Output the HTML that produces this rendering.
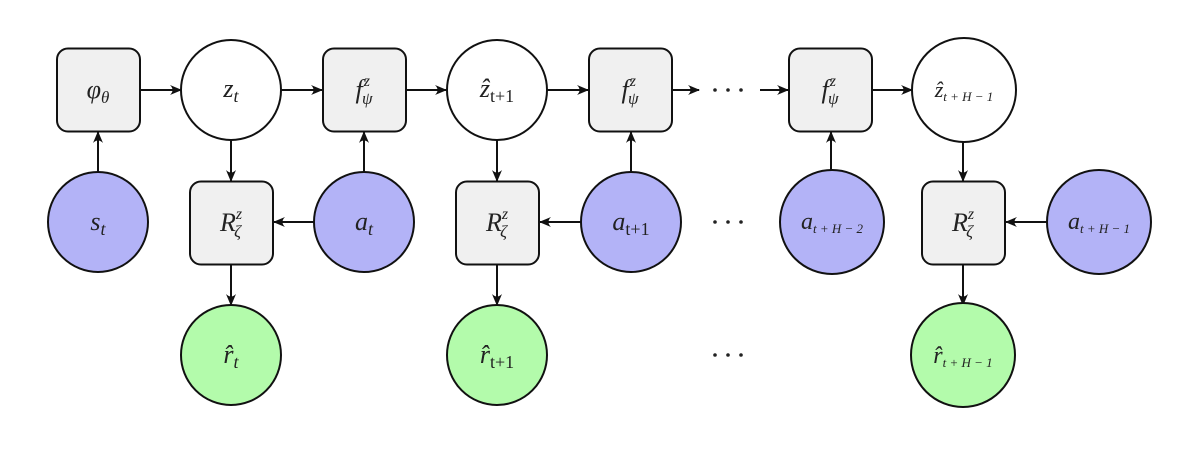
<!DOCTYPE html>
<html><head><meta charset="utf-8"><style>
html,body{margin:0;padding:0;background:#fff;}
svg{display:block;}
text{font-family:"Liberation Serif",serif;font-style:italic;fill:#222;}
</style></head><body>
<svg width="1200" height="450" viewBox="0 0 1200 450" xmlns="http://www.w3.org/2000/svg">
<defs>
<marker id="ah" markerWidth="12" markerHeight="10" refX="11" refY="5" orient="auto" markerUnits="userSpaceOnUse">
<path d="M0,0 Q5,5 0,10 L12,5 Z" fill="#111"/>
</marker>
</defs>
<g stroke="#111" stroke-width="2" fill="none" marker-end="url(#ah)">
<line x1="140" y1="90" x2="181" y2="90"/>
<line x1="281" y1="90" x2="322" y2="90"/>
<line x1="406" y1="90" x2="446" y2="90"/>
<line x1="547" y1="90" x2="588" y2="90"/>
<line x1="672" y1="90" x2="699" y2="90"/>
<line x1="760" y1="90" x2="788" y2="90"/>
<line x1="872" y1="90" x2="912" y2="90"/>
<line x1="98" y1="172" x2="98" y2="132"/>
<line x1="364" y1="172" x2="364" y2="132"/>
<line x1="631" y1="172" x2="631" y2="132"/>
<line x1="831" y1="172" x2="831" y2="132"/>
<line x1="231" y1="140" x2="231" y2="181"/>
<line x1="497" y1="140" x2="497" y2="181"/>
<line x1="963" y1="140" x2="963" y2="181"/>
<line x1="314" y1="222" x2="274" y2="222"/>
<line x1="581" y1="222" x2="540" y2="222"/>
<line x1="1049" y1="222" x2="1006" y2="222"/>
<line x1="231" y1="264" x2="231" y2="305"/>
<line x1="497" y1="264" x2="497" y2="305"/>
<line x1="963" y1="264" x2="963" y2="305"/>
</g>
<g stroke="#111" stroke-width="2">
<rect x="57" y="48.5" width="83" height="83" rx="11" fill="#f0f0f0"/>
<rect x="323" y="48.5" width="83" height="83" rx="11" fill="#f0f0f0"/>
<rect x="589" y="48.5" width="83" height="83" rx="11" fill="#f0f0f0"/>
<rect x="789" y="48.5" width="83" height="83" rx="11" fill="#f0f0f0"/>
<rect x="190" y="181.5" width="83" height="83" rx="11" fill="#f0f0f0"/>
<rect x="456" y="181.5" width="83" height="83" rx="11" fill="#f0f0f0"/>
<rect x="922" y="181.5" width="83" height="83" rx="11" fill="#f0f0f0"/>
<circle cx="231" cy="90" r="50" fill="#fff"/>
<circle cx="497" cy="90" r="50" fill="#fff"/>
<circle cx="964" cy="90" r="52" fill="#fff"/>
<circle cx="98" cy="222" r="50" fill="#b3b3f7"/>
<circle cx="364" cy="222" r="50" fill="#b3b3f7"/>
<circle cx="631" cy="222" r="50" fill="#b3b3f7"/>
<circle cx="832" cy="222" r="52" fill="#b3b3f7"/>
<circle cx="1099" cy="222" r="52" fill="#b3b3f7"/>
<circle cx="231" cy="355" r="50" fill="#b3fbab"/>
<circle cx="497" cy="355" r="50" fill="#b3fbab"/>
<circle cx="963" cy="355" r="52" fill="#b3fbab"/>
</g>
<g font-size="26" text-anchor="middle">
<text x="98" y="98">φ<tspan font-size="17" dy="5">θ</tspan></text>
<text x="231" y="97">z<tspan font-size="18" dy="5">t</tspan></text>
<text x="364" y="98">f<tspan font-size="16" dx="1" dy="-12">z</tspan><tspan font-size="17" dx="-8" dy="18">ψ</tspan></text>
<text x="630" y="98">f<tspan font-size="16" dx="1" dy="-12">z</tspan><tspan font-size="17" dx="-8" dy="18">ψ</tspan></text>
<text x="830" y="98">f<tspan font-size="16" dx="1" dy="-12">z</tspan><tspan font-size="17" dx="-8" dy="18">ψ</tspan></text>
<text x="497" y="97">ẑ<tspan font-size="18" dy="5" font-style="normal">t+1</tspan></text>
<text x="964" y="97" font-size="22">ẑ<tspan font-size="13" dy="4">t + H − 1</tspan></text>
<text x="98" y="230">s<tspan font-size="18" dy="5">t</tspan></text>
<text x="364" y="230">a<tspan font-size="18" dy="5">t</tspan></text>
<text x="631" y="230">a<tspan font-size="18" dy="5" font-style="normal">t+1</tspan></text>
<text x="832" y="229" font-size="24">a<tspan font-size="13" dy="4">t + H − 2</tspan></text>
<text x="1099" y="229" font-size="24">a<tspan font-size="13" dy="4">t + H − 1</tspan></text>
<text x="231" y="231">R<tspan font-size="16" dy="-12">z</tspan><tspan font-size="17" dx="-8" dy="18">ζ</tspan></text>
<text x="497" y="231">R<tspan font-size="16" dy="-12">z</tspan><tspan font-size="17" dx="-8" dy="18">ζ</tspan></text>
<text x="963" y="231">R<tspan font-size="16" dy="-12">z</tspan><tspan font-size="17" dx="-8" dy="18">ζ</tspan></text>
<text x="231" y="363">r̂<tspan font-size="18" dy="5">t</tspan></text>
<text x="497" y="363">r̂<tspan font-size="18" dy="5" font-style="normal">t+1</tspan></text>
<text x="963" y="363" font-size="24">r̂<tspan font-size="13" dy="4">t + H − 1</tspan></text>
</g>
<g fill="#222">
<circle cx="715" cy="90" r="1.8"/><circle cx="728" cy="90" r="1.8"/><circle cx="741" cy="90" r="1.8"/>
<circle cx="715" cy="222" r="1.8"/><circle cx="728" cy="222" r="1.8"/><circle cx="741" cy="222" r="1.8"/>
<circle cx="715" cy="355" r="1.8"/><circle cx="728" cy="355" r="1.8"/><circle cx="741" cy="355" r="1.8"/>
</g>
</svg>
</body></html>
